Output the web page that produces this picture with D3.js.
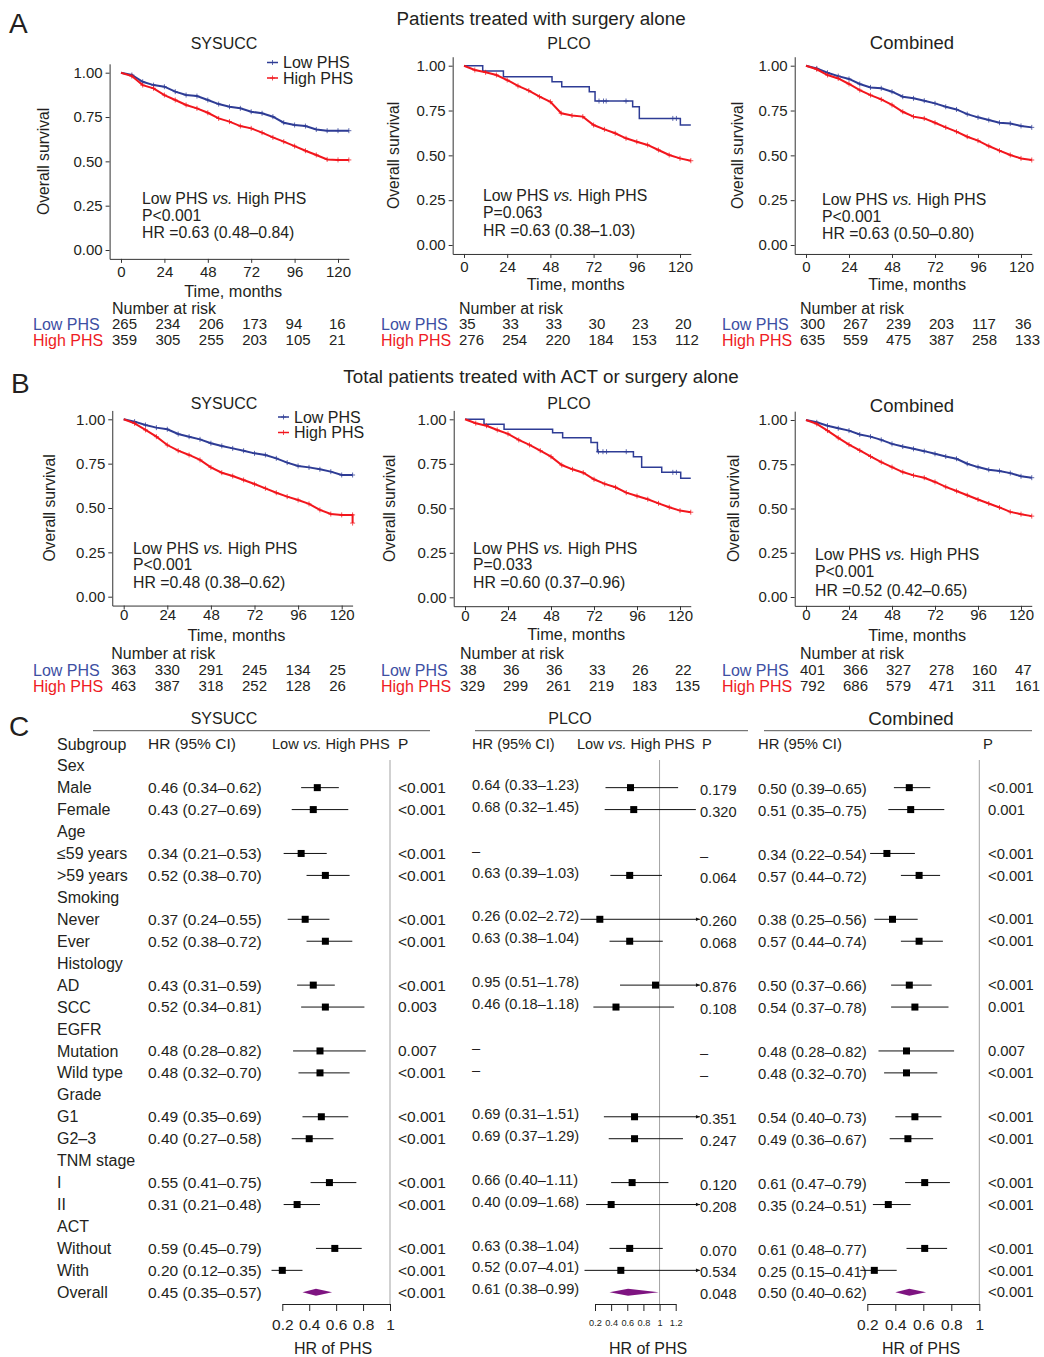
<!DOCTYPE html>
<html>
<head>
<meta charset="utf-8">
<script src="https://cdn.jsdelivr.net/npm/d3@7"></script>
<style>
  body { margin: 0; background: #fff; }
  svg { font-family: "Liberation Sans", Arial, Helvetica, sans-serif; }
</style>
</head>
<body>
<svg id="fig" width="1044" height="1357"></svg>
<script>
// ---------- KM data ----------
const timeTicks = [0, 24, 48, 72, 96, 120];
const survTicks = [0, 0.25, 0.5, 0.75, 1];
const kmTimes = [0, 6, 12, 18, 24, 30, 36, 42, 48, 54, 60, 66, 72, 78, 84, 90, 96, 102, 108, 114, 120, 126];

const aSysuccLow = [1, 0.987, 0.949, 0.930, 0.921, 0.893, 0.874, 0.868, 0.846, 0.823, 0.808, 0.799, 0.780, 0.771, 0.752, 0.718, 0.705, 0.699, 0.680, 0.673, 0.673, 0.673];
const aSysuccHigh = [1, 0.981, 0.930, 0.912, 0.874, 0.846, 0.818, 0.799, 0.774, 0.742, 0.724, 0.699, 0.686, 0.662, 0.635, 0.611, 0.586, 0.560, 0.536, 0.511, 0.508, 0.508];
const aPlcoLowT = [0, 10.4, 21.9, 48.9, 54.3, 69.6, 72.8, 93.7, 97.4, 120.2, 126];
const aPlcoLow = [1, 0.970, 0.939, 0.911, 0.883, 0.855, 0.803, 0.771, 0.706, 0.669, 0.669];
const aPlcoLowCensor = [75, 77.5, 79, 90, 116, 118];
const aPlcoHigh = [1, 0.976, 0.963, 0.948, 0.920, 0.887, 0.861, 0.827, 0.799, 0.735, 0.722, 0.716, 0.669, 0.645, 0.623, 0.595, 0.576, 0.558, 0.530, 0.502, 0.483, 0.470];
const aCombLow = [1, 0.985, 0.961, 0.942, 0.926, 0.898, 0.879, 0.874, 0.855, 0.827, 0.818, 0.805, 0.790, 0.771, 0.756, 0.730, 0.712, 0.697, 0.682, 0.678, 0.664, 0.656];
const aCombHigh = [1, 0.980, 0.948, 0.929, 0.898, 0.864, 0.836, 0.812, 0.781, 0.743, 0.716, 0.706, 0.682, 0.656, 0.632, 0.604, 0.582, 0.552, 0.526, 0.502, 0.483, 0.474];

const bSysuccLow = [1, 0.987, 0.968, 0.953, 0.944, 0.917, 0.902, 0.887, 0.865, 0.850, 0.836, 0.823, 0.808, 0.799, 0.780, 0.756, 0.737, 0.729, 0.718, 0.705, 0.686, 0.686];
const bSysuccHighT = [0, 6, 12, 18, 24, 30, 36, 42, 48, 54, 60, 66, 72, 78, 84, 90, 96, 102, 108, 114, 120, 126, 126];
const bSysuccHigh = [1, 0.977, 0.940, 0.902, 0.855, 0.823, 0.799, 0.771, 0.729, 0.699, 0.680, 0.658, 0.635, 0.611, 0.586, 0.564, 0.545, 0.523, 0.489, 0.466, 0.461, 0.461, 0.415];
const bPlcoLowT = [0, 10.6, 21.8, 48.9, 54.5, 70.3, 73.9, 94, 98.6, 109.8, 120.4, 126];
const bPlcoLow = [1, 0.972, 0.944, 0.925, 0.897, 0.869, 0.818, 0.790, 0.730, 0.702, 0.669, 0.669];
const bPlcoLowCensor = [74.5, 77, 79, 90, 116, 118];
const bPlcoHigh = [1, 0.978, 0.964, 0.940, 0.918, 0.884, 0.856, 0.824, 0.790, 0.743, 0.719, 0.700, 0.663, 0.637, 0.618, 0.588, 0.569, 0.551, 0.528, 0.506, 0.487, 0.478];
const bCombLow = [1, 0.987, 0.968, 0.953, 0.940, 0.918, 0.906, 0.888, 0.865, 0.850, 0.837, 0.824, 0.809, 0.794, 0.781, 0.753, 0.734, 0.719, 0.712, 0.700, 0.682, 0.674];
const bCombHigh = [1, 0.978, 0.940, 0.899, 0.861, 0.828, 0.794, 0.762, 0.734, 0.706, 0.687, 0.674, 0.650, 0.622, 0.599, 0.575, 0.551, 0.528, 0.506, 0.481, 0.468, 0.457];

// number at risk
const aSysuccRiskLow = [265, 234, 206, 173, 94, 16];
const aSysuccRiskHigh = [359, 305, 255, 203, 105, 21];
const aPlcoRiskLow = [35, 33, 33, 30, 23, 20];
const aPlcoRiskHigh = [276, 254, 220, 184, 153, 112];
const aCombRiskLow = [300, 267, 239, 203, 117, 36];
const aCombRiskHigh = [635, 559, 475, 387, 258, 133];
const bSysuccRiskLow = [363, 330, 291, 245, 134, 25];
const bSysuccRiskHigh = [463, 387, 318, 252, 128, 26];
const bPlcoRiskLow = [38, 36, 36, 33, 26, 22];
const bPlcoRiskHigh = [329, 299, 261, 219, 183, 135];
const bCombRiskLow = [401, 366, 327, 278, 160, 47];
const bCombRiskHigh = [792, 686, 579, 471, 311, 161];

// ---------- forest data ----------
const subgroups = ["Sex", "Male", "Female", "Age", "≤59 years", ">59 years", "Smoking", "Never", "Ever",
  "Histology", "AD", "SCC", "EGFR", "Mutation", "Wild type", "Grade", "G1", "G2–3", "TNM stage", "I", "II",
  "ACT", "Without", "With", "Overall"];
const forestRows = ["Male", "Female", "≤59 years", ">59 years", "Never", "Ever", "AD", "SCC", "Mutation",
  "Wild type", "G1", "G2–3", "I", "II", "Without", "With", "Overall"];

const sysuccHR = [0.46, 0.43, 0.34, 0.52, 0.37, 0.52, 0.43, 0.52, 0.48, 0.48, 0.49, 0.40, 0.55, 0.31, 0.59, 0.20, 0.45];
const sysuccLo = [0.34, 0.27, 0.21, 0.38, 0.24, 0.38, 0.31, 0.34, 0.28, 0.32, 0.35, 0.27, 0.41, 0.21, 0.45, 0.12, 0.35];
const sysuccHi = [0.62, 0.69, 0.53, 0.70, 0.55, 0.72, 0.59, 0.81, 0.82, 0.70, 0.69, 0.58, 0.75, 0.48, 0.79, 0.35, 0.57];
const sysuccP = ["<0.001", "<0.001", "<0.001", "<0.001", "<0.001", "<0.001", "<0.001", "0.003", "0.007", "<0.001",
  "<0.001", "<0.001", "<0.001", "<0.001", "<0.001", "<0.001", "<0.001"];

const plcoHR = [0.64, 0.68, null, 0.63, 0.26, 0.63, 0.95, 0.46, null, null, 0.69, 0.69, 0.66, 0.40, 0.63, 0.52, 0.61];
const plcoLo = [0.33, 0.32, null, 0.39, 0.02, 0.38, 0.51, 0.18, null, null, 0.31, 0.37, 0.40, 0.09, 0.38, 0.07, 0.38];
const plcoHi = [1.23, 1.45, null, 1.03, 2.72, 1.04, 1.78, 1.18, null, null, 1.51, 1.29, 1.11, 1.68, 1.04, 4.01, 0.99];
const plcoP = ["0.179", "0.320", "–", "0.064", "0.260", "0.068", "0.876", "0.108", "–", "–", "0.351", "0.247",
  "0.120", "0.208", "0.070", "0.534", "0.048"];

const combHR = [0.50, 0.51, 0.34, 0.57, 0.38, 0.57, 0.50, 0.54, 0.48, 0.48, 0.54, 0.49, 0.61, 0.35, 0.61, 0.25, 0.50];
const combLo = [0.39, 0.35, 0.22, 0.44, 0.25, 0.44, 0.37, 0.37, 0.28, 0.32, 0.40, 0.36, 0.47, 0.24, 0.48, 0.15, 0.40];
const combHi = [0.65, 0.75, 0.54, 0.72, 0.56, 0.74, 0.66, 0.78, 0.82, 0.70, 0.73, 0.67, 0.79, 0.51, 0.77, 0.41, 0.62];
const combP = ["<0.001", "0.001", "<0.001", "<0.001", "<0.001", "<0.001", "<0.001", "0.001", "0.007", "<0.001",
  "<0.001", "<0.001", "<0.001", "<0.001", "<0.001", "<0.001", "<0.001"];

// ---------- style ----------
const ink = "#231f20";
const axisInk = "#333";
const blue = "#2e3c95";
const red = "#f2161d";
const labelBlue = "#3d4fa3";
const labelRed = "#ee1c24";
const purple = "#7e1481";
const wordSize = 16;   // words look a touch wider than the digits in the original
const numSize = 15;

const svg = d3.select("#fig");

function label(g, x, y, text, size, opts = {}) {
  return g.append("text")
    .attr("x", x).attr("y", y).attr("dy", "0.35em")
    .attr("font-size", size)
    .attr("fill", opts.fill || ink)
    .attr("text-anchor", opts.anchor || "start")
    .text(text);
}

function vsText(g, x, y, size, before, after) {
  const t = g.append("text").attr("x", x).attr("y", y).attr("dy", "0.35em")
    .attr("font-size", size).attr("fill", ink);
  t.append("tspan").text(before);
  t.append("tspan").attr("font-style", "italic").text("vs.");
  t.append("tspan").text(after);
  return t;
}

function censorMark(g, cx, cy, color) {
  g.append("path")
    .attr("d", `M${cx - 2.5},${cy}H${cx + 2.5}M${cx},${cy - 2.5}V${cy + 2.5}`)
    .attr("stroke", color).attr("stroke-width", 1).attr("opacity", 0.75);
}

function drawKM(p) {
  const g = svg.append("g");
  const xr = d3.scaleLinear().domain([0, 120]).range([p.x0, p.x120]);
  const yr = d3.scaleLinear().domain([0, 1]).range([p.y0, p.y1]);
  const x = d3.scaleLinear().domain([-6.3, 126]).range([xr(-6.3), xr(126)]);
  const y = d3.scaleLinear().domain([-0.05, 1.05]).range([yr(-0.05), yr(1.05)]);

  const xAxis = g.append("g")
    .attr("transform", `translate(0,${y(-0.05)})`)
    .call(d3.axisBottom(x).tickValues(timeTicks).tickSize(4).tickPadding(p.xPad).tickSizeOuter(0));
  const yAxis = g.append("g")
    .attr("transform", `translate(${x(-6.3)},0)`)
    .call(d3.axisLeft(y).tickValues(survTicks).tickFormat(d3.format(".2f"))
      .tickSize(4).tickPadding(3).tickSizeOuter(0));
  [xAxis, yAxis].forEach(a => {
    a.attr("font-family", null).attr("font-size", numSize);
    a.select(".domain").attr("stroke", axisInk);
    a.selectAll(".tick line").attr("stroke", axisInk);
    a.selectAll(".tick text").attr("fill", ink);
  });

  label(g, p.titleX, p.titleY, p.title, p.titleSize, { anchor: "middle" });
  label(g, (x(-6.3) + x(126)) / 2 + 4, p.xlabY, "Time, months", 16.3, { anchor: "middle" });
  g.append("text")
    .attr("transform", `translate(${p.ylabX},${y(0.5)}) rotate(-90)`)
    .attr("dy", "0.35em").attr("text-anchor", "middle")
    .attr("font-size", 15.7).attr("fill", ink)
    .text("Overall survival");

  p.curves.forEach(c => {
    const pts = c.t.map((t, i) => [t, c.s[i]]);
    g.append("path")
      .datum(pts)
      .attr("d", d3.line().x(d => x(d[0])).y(d => y(d[1]))
        .curve(c.step ? d3.curveStepAfter : d3.curveLinear))
      .attr("fill", "none")
      .attr("stroke", c.color)
      .attr("stroke-width", c.step ? 1.5 : 2);

    if (c.censor) {
      c.censor.forEach(tc => {
        let s = c.s[0];
        c.t.forEach((t, i) => { if (t <= tc) s = c.s[i]; });
        censorMark(g, x(tc), y(s), c.color);
      });
    } else {
      pts.slice(1).forEach(d => censorMark(g, x(d[0]), y(d[1]), c.color));
    }
  });

  if (p.legend) {
    const [lx, ly] = p.legend;
    [["Low PHS", blue], ["High PHS", red]].forEach(([name, col], i) => {
      const yy = ly + i * 15.5;
      g.append("line").attr("x1", lx).attr("x2", lx + 11).attr("y1", yy).attr("y2", yy)
        .attr("stroke", col).attr("stroke-width", 1.5);
      censorMark(g, lx + 5.5, yy, col);
      label(g, lx + 16, yy, name, wordSize);
    });
  }

  vsText(g, p.annX, p.annY[0], 15.8, "Low PHS ", " High PHS");
  label(g, p.annX, p.annY[1], p.pText, 15.8);
  label(g, p.annX, p.annY[2], p.hrText, 15.8);

  // number at risk table
  label(g, x(0) + p.riskOffset, p.riskY[0], "Number at risk", wordSize);
  label(g, p.riskLabelX, p.riskY[1], "Low PHS", wordSize, { fill: labelBlue });
  label(g, p.riskLabelX, p.riskY[2], "High PHS", wordSize, { fill: labelRed });
  [p.riskLow, p.riskHigh].forEach((row, r) => {
    g.selectAll(null).data(row).enter().append("text")
      .attr("x", (d, i) => x(timeTicks[i]) + p.riskOffset)
      .attr("y", p.riskY[r + 1]).attr("dy", "0.35em")
      .attr("font-size", numSize).attr("fill", ink)
      .text(d => d);
  });
}

// panel letters and section titles
label(svg, 9, 23, "A", 28);
label(svg, 11, 383, "B", 28);
label(svg, 9, 726, "C", 28);
label(svg, 541, 18, "Patients treated with surgery alone", 18.8, { anchor: "middle" });
label(svg, 541, 376, "Total patients treated with ACT or surgery alone", 18.8, { anchor: "middle" });

const kmPanels = [
  { title: "SYSUCC", titleX: 224, titleY: 43, titleSize: 16, x0: 121, x120: 338, y1: 72.7, y0: 250, xPad: 3,
    ylabX: 43, xlabY: 291, legend: [267, 62.5], annX: 142, annY: [198, 215, 232],
    pText: "P<0.001", hrText: "HR =0.63 (0.48–0.84)", riskOffset: -9, riskLabelX: 33, riskY: [308, 324, 340],
    riskLow: aSysuccRiskLow, riskHigh: aSysuccRiskHigh,
    curves: [{ t: kmTimes, s: aSysuccLow, color: blue }, { t: kmTimes, s: aSysuccHigh, color: red }] },
  { title: "PLCO", titleX: 569, titleY: 43, titleSize: 16, x0: 464, x120: 680, y1: 65.7, y0: 245, xPad: 3,
    ylabX: 393, xlabY: 284, annX: 483, annY: [195, 212, 230],
    pText: "P=0.063", hrText: "HR =0.63 (0.38–1.03)", riskOffset: -5, riskLabelX: 381, riskY: [308, 324, 340],
    riskLow: aPlcoRiskLow, riskHigh: aPlcoRiskHigh,
    curves: [{ t: aPlcoLowT, s: aPlcoLow, color: blue, step: true, censor: aPlcoLowCensor },
      { t: kmTimes, s: aPlcoHigh, color: red }] },
  { title: "Combined", titleX: 912, titleY: 43, titleSize: 18.5, x0: 806, x120: 1021, y1: 65.7, y0: 245, xPad: 3,
    ylabX: 737, xlabY: 284, annX: 822, annY: [199, 216, 233],
    pText: "P<0.001", hrText: "HR =0.63 (0.50–0.80)", riskOffset: -6, riskLabelX: 722, riskY: [308, 324, 340],
    riskLow: aCombRiskLow, riskHigh: aCombRiskHigh,
    curves: [{ t: kmTimes, s: aCombLow, color: blue }, { t: kmTimes, s: aCombHigh, color: red }] },
  { title: "SYSUCC", titleX: 224, titleY: 403, titleSize: 16, x0: 123.7, x120: 341.7, y1: 419.3, y0: 596.7, xPad: 0,
    ylabX: 49, xlabY: 635, legend: [278, 417], annX: 133, annY: [548, 564, 582],
    pText: "P<0.001", hrText: "HR =0.48 (0.38–0.62)", riskOffset: -12.5, riskLabelX: 33, riskY: [653, 670, 686],
    riskLow: bSysuccRiskLow, riskHigh: bSysuccRiskHigh,
    curves: [{ t: kmTimes, s: bSysuccLow, color: blue }, { t: bSysuccHighT, s: bSysuccHigh, color: red }] },
  { title: "PLCO", titleX: 569, titleY: 403, titleSize: 16, x0: 465, x120: 680, y1: 419.3, y0: 597.3, xPad: 0,
    ylabX: 389, xlabY: 634, annX: 473, annY: [548, 564, 582],
    pText: "P=0.033", hrText: "HR =0.60 (0.37–0.96)", riskOffset: -5, riskLabelX: 381, riskY: [653, 670, 686],
    riskLow: bPlcoRiskLow, riskHigh: bPlcoRiskHigh,
    curves: [{ t: bPlcoLowT, s: bPlcoLow, color: blue, step: true, censor: bPlcoLowCensor },
      { t: kmTimes, s: bPlcoHigh, color: red }] },
  { title: "Combined", titleX: 912, titleY: 406, titleSize: 18.5, x0: 806, x120: 1021, y1: 420, y0: 597, xPad: 0,
    ylabX: 733, xlabY: 635, annX: 815, annY: [554, 571, 590],
    pText: "P<0.001", hrText: "HR =0.52 (0.42–0.65)", riskOffset: -6, riskLabelX: 722, riskY: [653, 670, 686],
    riskLow: bCombRiskLow, riskHigh: bCombRiskHigh,
    curves: [{ t: kmTimes, s: bCombLow, color: blue }, { t: kmTimes, s: bCombHigh, color: red }] }
];
kmPanels.forEach(drawKM);

// ---------- forest plots ----------
const rowY = d3.scalePoint().domain(subgroups).range([765.7, 1292.3]);
const headerY = 744;
const forestAxisY = 1304;
const fg = svg.append("g");

label(fg, 57, headerY, "Subgroup", wordSize);
subgroups.forEach(s => label(fg, 57, rowY(s), s, wordSize));

function drawForest(f) {
  const g = svg.append("g");
  const x = d3.scaleLinear().domain(f.domain).range(f.range);

  label(g, f.titleX, 718, f.title, f.titleSize, { anchor: "middle" });
  g.append("line").attr("x1", f.line[0]).attr("x2", f.line[1]).attr("y1", 730.7).attr("y2", 730.7)
    .attr("stroke", "#555").attr("stroke-width", 1);

  label(g, f.hrX, headerY, "HR (95% CI)", f.fontSize);
  if (f.vsX) vsText(g, f.vsX, headerY, f.vsSize, "Low ", " High PHS");
  label(g, f.pHeadX, headerY, "P", f.fontSize);

  // null line at HR = 1
  g.append("line").attr("x1", x(1)).attr("x2", x(1)).attr("y1", 760).attr("y2", forestAxisY)
    .attr("stroke", "#a3a3a3").attr("stroke-width", 1);

  forestRows.forEach((name, i) => {
    const yy = rowY(name);
    const hr = f.hr[i], lo = f.lo[i], hi = f.hi[i];
    const hrStr = hr == null ? "–" : `${hr.toFixed(2)} (${lo.toFixed(2)}–${hi.toFixed(2)})`;
    label(g, f.hrX, yy + f.hrDy, hrStr, f.fontSize);
    label(g, f.pX, yy + f.pDy, f.p[i], f.fontSize);
    if (hr == null) return;

    if (name === "Overall") {
      g.append("path")
        .attr("d", `M${x(lo)},${yy}L${x(hr)},${yy - 3.5}L${x(hi)},${yy}L${x(hr)},${yy + 3.5}Z`)
        .attr("fill", purple);
      return;
    }
    const clipped = f.clip && hi > f.clip;
    const xEnd = clipped ? x(f.clip) : x(hi);
    g.append("line").attr("x1", x(lo)).attr("x2", xEnd).attr("y1", yy).attr("y2", yy)
      .attr("stroke", "#111").attr("stroke-width", 1);
    if (clipped) {
      g.append("path").attr("d", `M${xEnd},${yy}l-4,-1.8v3.6Z`).attr("fill", "#111");
    }
    g.append("rect").attr("x", x(hr) - 3.5).attr("y", yy - 3.5).attr("width", 7).attr("height", 7)
      .attr("fill", "#000");
  });

  const axis = g.append("g")
    .attr("transform", `translate(0,${forestAxisY})`)
    .call(d3.axisBottom(x).tickValues(f.ticks).tickFormat(d => String(d))
      .tickSize(7).tickPadding(8).tickSizeOuter(0));
  axis.attr("font-family", null).attr("font-size", f.tickSize);
  axis.select(".domain").attr("stroke", "#222");
  axis.selectAll(".tick line").attr("stroke", "#222");
  axis.selectAll(".tick text").attr("fill", ink);

  label(g, f.xlabX, 1348, "HR of PHS", wordSize, { anchor: "middle" });
}

const forestPanels = [
  { title: "SYSUCC", titleX: 224, titleSize: 16, line: [93, 430], hrX: 148, vsX: 272, vsSize: 14.6,
    pHeadX: 398, pX: 398, fontSize: 15.5, hrDy: 0, pDy: 0, domain: [0.2, 1], range: [282.3, 390],
    ticks: [0.2, 0.4, 0.6, 0.8, 1], tickSize: 15.5, xlabX: 333,
    hr: sysuccHR, lo: sysuccLo, hi: sysuccHi, p: sysuccP },
  { title: "PLCO", titleX: 570, titleSize: 16, line: [475, 748], hrX: 472, vsX: 577, vsSize: 14.6,
    pHeadX: 702, pX: 700, fontSize: 14.6, hrDy: -3, pDy: 2, domain: [0.2, 1.2], range: [595, 675.7], clip: 1.5,
    ticks: [0.2, 0.4, 0.6, 0.8, 1, 1.2], tickSize: 9.2, xlabX: 648,
    hr: plcoHR, lo: plcoLo, hi: plcoHi, p: plcoP },
  { title: "Combined", titleX: 911, titleSize: 18.8, line: [764, 1032], hrX: 758, pHeadX: 983, pX: 988,
    fontSize: 14.8, hrDy: 1, pDy: 0, domain: [0.2, 1], range: [867.3, 979.3], ticks: [0.2, 0.4, 0.6, 0.8, 1],
    tickSize: 15.5, xlabX: 921, hr: combHR, lo: combLo, hi: combHi, p: combP }
];
forestPanels.forEach(drawForest);
</script>
</body>
</html>
